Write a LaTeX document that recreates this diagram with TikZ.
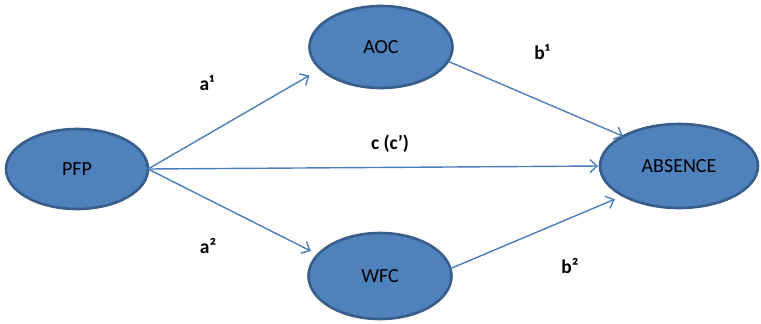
\documentclass[tikz,border=0pt]{standalone}
\usepackage{fontspec}
\setmainfont{Carlito}
\usetikzlibrary{shapes.geometric, arrows.meta}

\definecolor{varfill}{HTML}{4F81BD}
\definecolor{varline}{HTML}{385D8A}
\definecolor{pathline}{HTML}{4A7EBB}

\begin{document}
\begin{tikzpicture}[x=1pt, y=-1pt,
    var/.style = {ellipse, draw=varline, line width=2.6pt, fill=varfill,
                  inner sep=0pt, outer sep=0pt, font=\fontsize{20}{20}\selectfont},
    coef/.style = {font=\fontsize{19.5}{20}\selectfont\bfseries},
    path/.style = {draw=pathline, line width=1.4pt,
                   -{Straight Barb[length=7pt, width=13pt]}}]
  \useasboundingbox (0,0) rectangle (761,324);
  \node[var, minimum width=142pt, minimum height=80pt] (PFP) at (77,169) {PFP};
  \node[var, minimum width=143pt, minimum height=82pt] (AOC) at (381,47) {AOC};
  \node[var, minimum width=143pt, minimum height=86pt] (WFC) at (380,276) {WFC};
  \node[var, minimum width=158pt, minimum height=84pt] (ABS) at (679,166) {ABSENCE};
  % path coefficients
  \node[coef] (a1) at (207,83) {a¹};
  \node[coef] (a2) at (208,246) {a²};
  \node[coef] (b1) at (542,52) {b¹};
  \node[coef] (b2) at (570,266) {b²};
  \node[coef] (c) at (390,144) {c (c’)};
  \path
    (PFP.east) edge[path, shorten >=13pt] (AOC.200)
               edge[path, shorten >=8pt] (WFC.161)
               edge[path, shorten >=2pt] (ABS.west)
    (AOC.-12)  edge[path] (ABS.152)
    (WFC.6)    edge[path, shorten >=9pt] (ABS.208);
\end{tikzpicture}
\end{document}
